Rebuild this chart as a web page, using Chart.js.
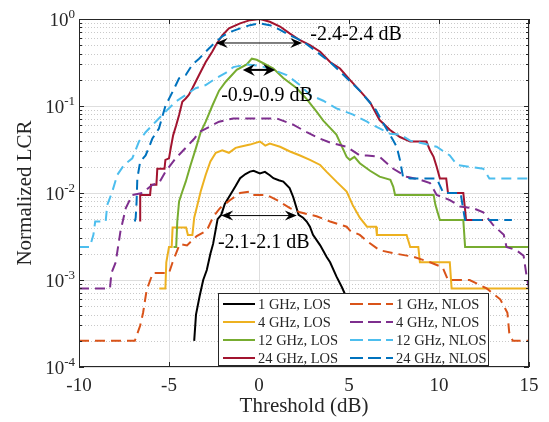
<!DOCTYPE html>
<html>
<head>
<meta charset="utf-8">
<script src="https://cdn.jsdelivr.net/npm/chart.js@4.4.1/dist/chart.umd.min.js"></script>
<style>
  html, body { margin: 0; padding: 0; background: #fff; }
</style>
</head>
<body>
<canvas id="lcr" width="549" height="422"></canvas>
<script>
// level crossing rate vs threshold, [threshold dB, normalized LCR]
const los1GHz = [
  [-3.6, 2.0e-4], [-3.5, 4.0e-4], [-3.3, 6.5e-4], [-3.1, 1.0e-3], [-2.9, 1.3e-3], [-2.7, 2.0e-3],
  [-2.55, 2.6e-3], [-2.3, 5.0e-3], [-2.1, 5.6e-3], [-1.9, 7.5e-3], [-1.6, 9.5e-3], [-1.3, 0.012],
  [-1.05, 0.0148], [-0.75, 0.0165], [-0.5, 0.0176], [-0.3, 0.018], [0.05, 0.0168], [0.33, 0.0175],
  [0.6, 0.016], [0.8, 0.0148], [1.1, 0.014], [1.35, 0.0135], [1.7, 0.0114], [1.9, 9.0e-3],
  [2.2, 5.6e-3], [2.45, 5.2e-3], [2.65, 4.7e-3], [2.83, 4.1e-3], [3.0, 3.3e-3], [3.4, 2.5e-3],
  [3.76, 1.84e-3], [3.95, 1.6e-3], [4.3, 1.1e-3], [4.6, 8.3e-4], [4.8, 6.7e-4], [5.0, 4.5e-4], [5.2, 2.5e-4]
];
const los4GHz = [
  [-5.54, 8e-4], [-5.2, 8e-4], [-5.15, 1.6e-3], [-5.0, 2.4e-3], [-4.85, 2.4e-3], [-4.8, 4.0e-3],
  [-4.05, 4.0e-3], [-3.95, 3.3e-3], [-3.7, 3.3e-3], [-3.6, 5.2e-3], [-3.43, 7.2e-3], [-3.24, 0.0104],
  [-2.96, 0.0162], [-2.7, 0.023], [-2.4, 0.029], [-2.04, 0.031], [-1.67, 0.029], [-1.3, 0.033],
  [-1.05, 0.034], [-0.5, 0.036], [0.05, 0.039], [0.35, 0.035], [0.6, 0.037], [1.17, 0.034],
  [1.72, 0.03], [2.28, 0.027], [2.83, 0.024], [3.4, 0.021], [3.76, 0.0175], [4.3, 0.0135],
  [4.87, 0.0104], [5.2, 7.3e-3], [5.6, 5.2e-3], [6.0, 4.1e-3], [6.5, 4.1e-3], [6.55, 3.3e-3],
  [8.2, 3.3e-3], [8.4, 2.4e-3], [8.85, 2.4e-3], [8.94, 1.6e-3], [10.6, 1.6e-3], [10.7, 8e-4], [15, 8e-4]
];
const los12GHz = [
  [-4.75, 2.4e-3], [-4.6, 2.4e-3], [-4.54, 4.7e-3], [-4.44, 8e-3], [-4.26, 0.0104], [-4.07, 0.0135],
  [-3.8, 0.021], [-3.5, 0.033], [-3.24, 0.05], [-2.96, 0.066], [-2.6, 0.1], [-2.22, 0.15],
  [-1.85, 0.19], [-1.24, 0.26], [-0.68, 0.3], [-0.4, 0.35], [-0.13, 0.34], [0.24, 0.31],
  [0.8, 0.27], [1.35, 0.21], [2.1, 0.16], [2.65, 0.12], [3.2, 0.086], [3.57, 0.068], [4.3, 0.047],
  [4.87, 0.026], [5.05, 0.024], [5.3, 0.026], [5.6, 0.022], [6.17, 0.018], [6.7, 0.0154],
  [7.3, 0.0142], [7.46, 0.0118], [7.56, 9.5e-3], [9.7, 9.5e-3], [9.8, 7.3e-3], [10.05, 4.9e-3],
  [11.35, 4.9e-3], [11.45, 2.4e-3], [15, 2.4e-3]
];
const los24GHz = [
  [-6.6, 4.7e-3], [-6.6, 9.5e-3], [-6.05, 9.5e-3], [-6.0, 0.0124], [-5.7, 0.0124], [-5.65, 0.019],
  [-5.25, 0.019], [-5.2, 0.024], [-5.0, 0.025], [-4.9, 0.033], [-4.77, 0.046], [-4.6, 0.06],
  [-4.44, 0.079], [-4.26, 0.112], [-4.07, 0.122], [-3.9, 0.134], [-3.7, 0.16], [-3.33, 0.227],
  [-2.96, 0.32], [-2.6, 0.42], [-2.4, 0.5], [-2.04, 0.65], [-1.67, 0.78], [-1.05, 0.89],
  [-0.5, 0.97], [0.05, 1.0], [0.6, 0.93], [1.17, 0.82], [1.72, 0.68], [2.28, 0.57], [2.83, 0.5],
  [3.4, 0.42], [3.95, 0.32], [4.5, 0.27], [5.05, 0.2], [5.6, 0.15], [6.17, 0.11], [6.7, 0.069],
  [7.28, 0.053], [7.83, 0.044], [8.4, 0.039], [9.3, 0.039], [9.5, 0.031], [9.7, 0.026],
  [9.87, 0.02], [10.05, 0.0147], [10.4, 0.0147], [10.5, 0.01], [11.35, 0.01], [11.45, 6.4e-3],
  [11.5, 4.9e-3], [12.45, 4.9e-3]
];
const nlos1GHz = [
  [-10, 2e-4], [-6.9, 2e-4], [-6.6, 3e-4], [-6.44, 4.2e-4], [-6.24, 7.7e-4], [-5.9, 1.2e-3],
  [-5.0, 1.2e-3], [-4.8, 1.6e-3], [-4.4, 2.6e-3], [-4.0, 2.5e-3], [-3.46, 3.2e-3], [-2.9, 3.7e-3],
  [-2.55, 5.3e-3], [-2.17, 6.7e-3], [-1.6, 8.3e-3], [-1.05, 0.01], [-0.5, 0.0104], [-0.33, 9.5e-3],
  [0.43, 9.5e-3], [1.0, 8.3e-3], [1.72, 6.7e-3], [2.28, 6.0e-3], [3.2, 5.4e-3], [3.95, 4.7e-3],
  [4.87, 4.1e-3], [5.06, 3.7e-3], [5.6, 3.3e-3], [6.0, 2.8e-3], [6.7, 2.2e-3], [7.65, 2.0e-3],
  [8.57, 1.85e-3], [9.5, 1.6e-3], [10.2, 1.4e-3], [10.5, 1.0e-3], [11.7, 1.0e-3], [12.65, 8e-4],
  [13.4, 6e-4], [13.8, 4.2e-4], [13.9, 2.5e-4], [14.1, 2e-4], [15, 2e-4]
];
const nlos4GHz = [
  [-10, 8e-4], [-8.28, 8e-4], [-8.2, 1.2e-3], [-7.96, 1.6e-3], [-7.7, 3.6e-3], [-7.4, 6.7e-3],
  [-7.04, 9.5e-3], [-6.48, 0.01], [-5.93, 0.0124], [-5.56, 0.013], [-5.2, 0.0175], [-4.63, 0.025],
  [-4.07, 0.033], [-3.6, 0.042], [-3.33, 0.05], [-2.22, 0.066], [-1.43, 0.072], [-0.68, 0.072],
  [0.05, 0.072], [0.98, 0.072], [1.9, 0.061], [2.65, 0.05], [3.4, 0.042], [3.95, 0.038],
  [4.87, 0.034], [5.6, 0.027], [6.0, 0.027], [6.7, 0.026], [7.46, 0.019], [8.2, 0.0154],
  [8.94, 0.0142], [9.5, 0.013], [9.87, 9.5e-3], [10.6, 8.3e-3], [11.17, 7e-3], [11.9, 6.7e-3],
  [12.46, 6.0e-3], [13.0, 4.3e-3], [13.6, 3.3e-3], [13.75, 2.4e-3], [14.3, 2.2e-3], [14.7, 1.9e-3],
  [14.87, 1.1e-3], [15, 8e-4]
];
const nlos12GHz = [
  [-10, 2.4e-3], [-9.4, 2.4e-3], [-9.2, 3.3e-3], [-9.1, 4.7e-3], [-8.52, 4.7e-3], [-8.43, 7.3e-3],
  [-8.15, 0.0104], [-7.87, 0.0162], [-7.5, 0.021], [-7.04, 0.025], [-6.67, 0.039], [-6.3, 0.05],
  [-5.74, 0.066], [-5.2, 0.086], [-4.63, 0.112], [-4.07, 0.134], [-3.52, 0.16], [-2.96, 0.174],
  [-2.4, 0.208], [-1.85, 0.24], [-1.43, 0.28], [-0.68, 0.3], [0.05, 0.29], [0.8, 0.26],
  [1.54, 0.227], [2.28, 0.174], [2.83, 0.134], [3.57, 0.115], [4.3, 0.094], [5.2, 0.08],
  [6.0, 0.066], [6.17, 0.063], [7.28, 0.048], [7.83, 0.047], [8.4, 0.04], [9.13, 0.037],
  [9.87, 0.034], [10.6, 0.027], [11.0, 0.021], [11.7, 0.02], [12.46, 0.019], [12.8, 0.0147], [15, 0.0147]
];
const nlos24GHz = [
  [-6.9, 4.7e-3], [-6.85, 5.2e-3], [-6.8, 8e-3], [-6.76, 0.0147], [-6.6, 0.023], [-6.3, 0.027],
  [-6.1, 0.034], [-5.93, 0.042], [-5.56, 0.055], [-5.2, 0.1], [-4.8, 0.146], [-4.44, 0.208],
  [-4.07, 0.227], [-3.7, 0.3], [-3.33, 0.35], [-2.96, 0.42], [-2.6, 0.5], [-2.04, 0.63],
  [-1.6, 0.71], [-1.05, 0.78], [-0.5, 0.85], [0.05, 0.89], [0.6, 0.85], [1.17, 0.75], [1.72, 0.65],
  [2.46, 0.55], [3.2, 0.42], [3.95, 0.32], [4.87, 0.21], [5.6, 0.15], [6.5, 0.09], [6.7, 0.075],
  [7.46, 0.04], [7.65, 0.034], [7.83, 0.024], [8.0, 0.0154], [8.4, 0.0147], [9.87, 0.0147],
  [10.24, 0.01], [11.2, 0.01], [11.35, 6.4e-3], [11.45, 4.9e-3], [14.05, 4.9e-3]
];

const seriesData = [los1GHz, los4GHz, los12GHz, los24GHz, nlos1GHz, nlos4GHz, nlos12GHz, nlos24GHz];
const seriesLabels = ["1 GHz, LOS", "4 GHz, LOS", "12 GHz, LOS", "24 GHz, LOS",
                      "1 GHz, NLOS", "4 GHz, NLOS", "12 GHz, NLOS", "24 GHz, NLOS"];
const seriesColors = ["#000000", "#EDB120", "#77AC30", "#A2142F",
                      "#D95319", "#7E2F8E", "#4DBEEE", "#0072BD"];

const xTicks = [-10, -5, 0, 5, 10, 15];
const yDecades = [-4, -3, -2, -1, 0];

// double arrows: [from dB, to dB, LCR level], with their captions
const spanArrows = [[-2.4, 2.4, 0.53], [-0.9, 0.9, 0.26], [-2.1, 2.1, 5.5e-3]];
const spanTexts = ["-2.4-2.4 dB", "-0.9-0.9 dB", "-2.1-2.1 dB"];
const spanTextAt = [[2.85, 0.655], [-2.1, 0.13], [-2.28, 2.66e-3]];

const SERIF = "'Liberation Serif', 'Times New Roman', serif";
const INK = "#262626";

function arrowHead(ctx, x, y, dir, len, half) {
  ctx.beginPath();
  ctx.moveTo(x, y);
  ctx.lineTo(x + dir * len, y - half);
  ctx.lineTo(x + dir * len * 0.65, y);
  ctx.lineTo(x + dir * len, y + half);
  ctx.closePath();
  ctx.fill();
}

const framePlugin = {
  id: "frame",
  beforeDatasetsDraw(chart) {
    const { ctx, chartArea: a, scales: { x, y } } = chart;
    ctx.save();
    // minor dotted grid on the log axis
    ctx.strokeStyle = "#c9c9c9";
    ctx.lineWidth = 1;
    ctx.setLineDash([1, 2]);
    for (const d of yDecades.slice(0, -1)) {
      for (let k = 2; k <= 9; k++) {
        const py = Math.round(y.getPixelForValue(k * Math.pow(10, d))) + 0.5;
        ctx.beginPath(); ctx.moveTo(a.left, py); ctx.lineTo(a.right, py); ctx.stroke();
      }
    }
    ctx.setLineDash([]);
    ctx.strokeStyle = "#dedede";
    for (const d of yDecades) {
      const py = Math.round(y.getPixelForValue(Math.pow(10, d))) + 0.5;
      ctx.beginPath(); ctx.moveTo(a.left, py); ctx.lineTo(a.right, py); ctx.stroke();
    }
    for (const t of xTicks) {
      const px = Math.round(x.getPixelForValue(t)) + 0.5;
      ctx.beginPath(); ctx.moveTo(px, a.top); ctx.lineTo(px, a.bottom); ctx.stroke();
    }
    ctx.restore();
  },
  afterDatasetsDraw(chart) {
    const { ctx, chartArea: a, scales: { x, y } } = chart;
    ctx.save();

    // axes box with inward ticks
    ctx.strokeStyle = INK;
    ctx.lineWidth = 1;
    ctx.strokeRect(a.left + 0.5, a.top + 0.5, a.right - a.left - 1, a.bottom - a.top - 1);
    ctx.beginPath();
    for (const d of yDecades) {
      for (let k = 1; k <= 9; k++) {
        if (d === 0 && k > 1) break;
        const py = Math.round(y.getPixelForValue(k * Math.pow(10, d))) + 0.5;
        const len = k === 1 ? 5 : 3;
        ctx.moveTo(a.left, py); ctx.lineTo(a.left + len, py);
        ctx.moveTo(a.right, py); ctx.lineTo(a.right - len, py);
      }
    }
    for (const t of xTicks) {
      const px = Math.round(x.getPixelForValue(t)) + 0.5;
      ctx.moveTo(px, a.bottom); ctx.lineTo(px, a.bottom - 5);
      ctx.moveTo(px, a.top); ctx.lineTo(px, a.top + 5);
    }
    ctx.stroke();

    // tick labels
    ctx.fillStyle = INK;
    ctx.font = "19px " + SERIF;
    ctx.textAlign = "center";
    ctx.textBaseline = "middle";
    for (const t of xTicks) ctx.fillText(String(t), x.getPixelForValue(t), a.bottom + 19);

    ctx.textBaseline = "alphabetic";
    for (const d of yDecades) {
      const py = y.getPixelForValue(Math.pow(10, d));
      const exp = String(d);
      ctx.font = "13px " + SERIF;
      const ew = ctx.measureText(exp).width;
      ctx.textAlign = "left";
      ctx.fillText(exp, a.left - 4 - ew, py - 1);
      ctx.font = "19px " + SERIF;
      ctx.textAlign = "right";
      ctx.fillText("10", a.left - 4 - ew, py + 7);
    }

    // axis titles
    ctx.font = "21px " + SERIF;
    ctx.textAlign = "center";
    ctx.textBaseline = "middle";
    ctx.fillText("Threshold (dB)", (a.left + a.right) / 2, 406);
    ctx.save();
    ctx.translate(25, (a.top + a.bottom) / 2);
    ctx.rotate(-Math.PI / 2);
    ctx.fillText("Normalized LCR", 0, 0);
    ctx.restore();

    // double arrows and captions
    ctx.fillStyle = "#000";
    ctx.strokeStyle = "#000";
    spanArrows.forEach(([x0, x1, lv], i) => {
      const p0 = x.getPixelForValue(x0), p1 = x.getPixelForValue(x1);
      const py = y.getPixelForValue(lv);
      const bold = i === 1;
      ctx.lineWidth = bold ? 2 : 1;
      ctx.beginPath(); ctx.moveTo(p0 + 6, py); ctx.lineTo(p1 - 6, py); ctx.stroke();
      arrowHead(ctx, p0, py, 1, 12, bold ? 6 : 5);
      arrowHead(ctx, p1, py, -1, 12, bold ? 6 : 5);
    });
    ctx.font = "20px " + SERIF;
    ctx.textAlign = "left";
    ctx.textBaseline = "middle";
    spanTexts.forEach((txt, i) => {
      const [tx, ty] = spanTextAt[i];
      ctx.fillText(txt, x.getPixelForValue(tx), y.getPixelForValue(ty));
    });

    // legend box, two columns
    const lx = 218, ly = 293, lw = 270, lh = 72;
    ctx.fillStyle = "#fff";
    ctx.fillRect(lx, ly, lw, lh);
    ctx.strokeStyle = INK;
    ctx.lineWidth = 1;
    ctx.strokeRect(lx + 0.5, ly + 0.5, lw, lh);
    ctx.font = "14.5px " + SERIF;
    ctx.textAlign = "left";
    ctx.textBaseline = "middle";
    seriesLabels.forEach((lab, i) => {
      const col = i < 4 ? 0 : 1;
      const row = i % 4;
      const ry = ly + 11 + row * 18;
      const x0 = col ? 350 : 223, x1 = col ? 393 : 255;
      ctx.strokeStyle = seriesColors[i];
      ctx.lineWidth = 2;
      ctx.setLineDash(col ? [13, 5] : []);
      ctx.beginPath(); ctx.moveTo(x0, ry); ctx.lineTo(x1, ry); ctx.stroke();
      ctx.setLineDash([]);
      ctx.fillStyle = INK;
      ctx.fillText(lab, x1 + 3, ry + 1);
    });

    ctx.restore();
  }
};

new Chart(document.getElementById("lcr"), {
  type: "line",
  data: {
    datasets: seriesData.map((pts, i) => ({
      label: seriesLabels[i],
      data: pts.map(([tx, v]) => ({ x: tx, y: v })),
      borderColor: seriesColors[i],
      backgroundColor: seriesColors[i],
      borderWidth: 2,
      borderDash: i < 4 ? [] : [10, 6],
      pointRadius: 0,
      tension: 0,
      fill: false,
      order: 7 - i,
    })),
  },
  options: {
    responsive: false,
    animation: false,
    events: [],
    layout: { padding: { top: 19, right: 20, left: 0, bottom: 0 } },
    plugins: { legend: { display: false }, tooltip: { enabled: false } },
    scales: {
      x: {
        type: "linear", min: -10, max: 15,
        ticks: { display: false, stepSize: 5 },
        grid: { display: false, drawTicks: false },
        border: { display: false },
        afterFit: (s) => { s.height = 55; },
      },
      y: {
        type: "logarithmic", min: 1e-4, max: 1,
        ticks: { display: false },
        grid: { display: false, drawTicks: false },
        border: { display: false },
        afterFit: (s) => { s.width = 79; },
      },
    },
  },
  plugins: [framePlugin],
});
</script>
</body>
</html>
